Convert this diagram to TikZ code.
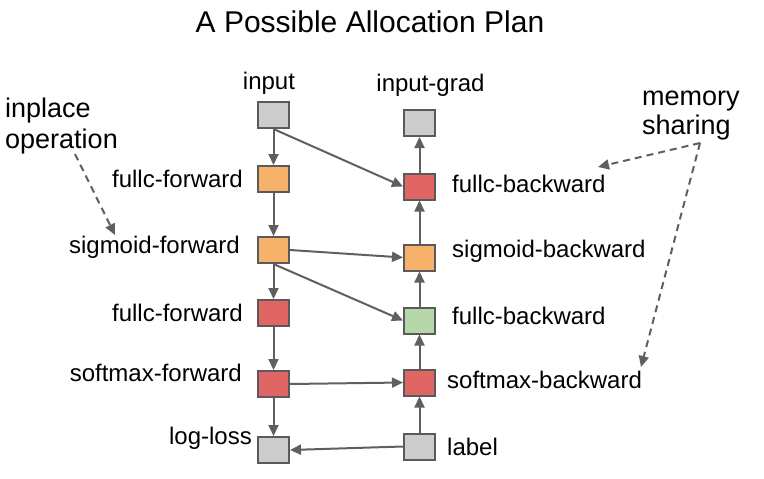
\documentclass[tikz,border=0pt]{standalone}
\usepackage{fontspec}
\setmainfont{Liberation Sans}
\usetikzlibrary{arrows.meta}

\definecolor{linegray}{HTML}{5F5F5F}
\definecolor{boxedge}{HTML}{5A5A5A}
\definecolor{cgray}{HTML}{CCCCCC}
\definecolor{corange}{HTML}{F6B26B}
\definecolor{cred}{HTML}{E06666}
\definecolor{cgreen}{HTML}{B6D7A8}

\tikzset{
  blk/.style={draw=boxedge, line width=2pt, minimum width=31pt, minimum height=26pt, inner sep=0pt},
  lbl/.style={inner sep=0pt, font=\fontsize{24}{28}\selectfont},
  notetext/.style={inner sep=0pt, align=left},
  flow/.style={draw=linegray, line width=2pt, -{Triangle[length=11pt,width=10pt]}},
  noteflow/.style={flow, dash pattern=on 7pt off 5pt},
}

\begin{document}
\begin{tikzpicture}[x=1pt,y=-1pt]
  \useasboundingbox (0,0) rectangle (764,479);
  \node[anchor=base, inner sep=0pt, font=\fontsize{30}{36}\selectfont] (title) at (370,32) {A Possible Allocation Plan};

  % forward column
  \node[blk, fill=cgray]   (input) at (273.5,115) {};
  \node[blk, fill=corange] (ff1)   at (273.5,179) {};
  \node[blk, fill=corange] (sf)    at (273.5,250) {};
  \node[blk, fill=cred]    (ff2)   at (273.5,313) {};
  \node[blk, fill=cred]    (smf)   at (273.5,384) {};
  \node[blk, fill=cgray]   (loss)  at (273.5,450) {};
  % backward column
  \node[blk, fill=cgray]   (ig)    at (419.5,123) {};
  \node[blk, fill=cred]    (fb1)   at (419.5,186.5) {};
  \node[blk, fill=corange] (sb)    at (419.5,257.5) {};
  \node[blk, fill=cgreen]  (fb2)   at (419.5,320.5) {};
  \node[blk, fill=cred]    (smb)   at (419.5,382.5) {};
  \node[blk, fill=cgray]   (lab)   at (419.5,446.5) {};

  \node[lbl, anchor=base] (t-input) at (269,89) {input};
  \node[lbl, anchor=base] (t-ig) at (430.5,91) {input-grad};
  \node[lbl, anchor=base east] (t-ff1) at (243,187) {fullc-forward};
  \node[lbl, anchor=base east] (t-sf) at (240,253) {sigmoid-forward};
  \node[lbl, anchor=base east] (t-ff2) at (243,321) {fullc-forward};
  \node[lbl, anchor=base east] (t-smf) at (242,381) {softmax-forward};
  \node[lbl, anchor=base east] (t-loss) at (252,444) {log-loss};
  \node[lbl, anchor=base west] (t-fb1) at (452,192) {fullc-backward};
  \node[lbl, anchor=base west] (t-sb) at (452,257) {sigmoid-backward};
  \node[lbl, anchor=base west] (t-fb2) at (452,324) {fullc-backward};
  \node[lbl, anchor=base west] (t-smb) at (447,388) {softmax-backward};
  \node[lbl, anchor=base west] (t-lab) at (447,455) {label};

  % forward pass
  \draw[flow] (input) -- (ff1);
  \draw[flow] (ff1) -- (sf);
  \draw[flow] (sf) -- (ff2);
  \draw[flow] (ff2) -- (smf);
  \draw[flow] (smf) -- (loss);
  \draw[flow] (lab.west) -- (loss.east);
  % backward pass
  \draw[flow] (lab) -- (smb);
  \draw[flow] (smb) -- (fb2);
  \draw[flow] (fb2) -- (sb);
  \draw[flow] (sb) -- (fb1);
  \draw[flow] (fb1) -- (ig);
  \draw[flow] (smf.east) -- (smb.west);
  \draw[flow] (sf.east) -- (sb.west);
  \draw[flow] (sf.south) -- (fb2.west);
  \draw[flow] (input.south) -- (fb1.west);

  % notes
  \node[notetext, anchor=west, font=\fontsize{27}{31}\selectfont] (inplace) at (5,125.7) {inplace\\operation};
  \node[notetext, anchor=west, font=\fontsize{27}{29}\selectfont] (sharing) at (642,115.4) {memory\\sharing};
  \coordinate (ip-from) at (75,154);
  \coordinate (ip-to) at (115,235);
  \coordinate (ms-from) at (700,143);
  \coordinate (ms-top) at (598,167);
  \coordinate (ms-bot) at (641,367);
  \draw[noteflow] (ip-from) -- (ip-to);
  \draw[noteflow] (ms-from) -- (ms-top);
  \draw[noteflow] (ms-from) -- (ms-bot);
\end{tikzpicture}
\end{document}
